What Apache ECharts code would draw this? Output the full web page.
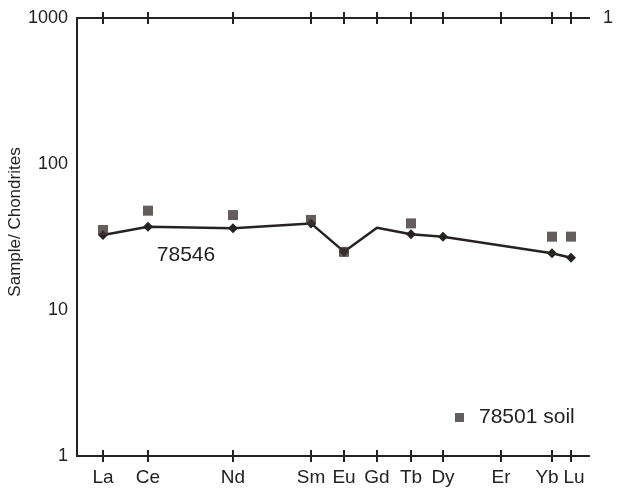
<!DOCTYPE html>
<html><head><meta charset="utf-8">
<script src="https://cdn.jsdelivr.net/npm/echarts@6/dist/echarts.min.js"></script>
<style>html,body{margin:0;padding:0;background:#fff}#c{width:620px;height:491px}</style>
</head><body><div id="c"></div>
<script>
// Rare earth elements and their positions along the (non-uniform) x scale
const elements = ['La','Ce','Nd','Sm','Eu','Gd','Tb','Dy','Er','Yb','Lu'];
const elementPos = [26,71,156,234,267,300,334,366,424,475,494];
// Sample / chondrite ratios
const sample78546 = [32.6,37.2,36.3,39.2,25.1,36.6,33.0,31.8,null,24.5,22.8];
const soil78501  = [35.3,47.9,44.7,41.4,25.0,null,39.2,null,null,31.8,31.8];
const yTickValues = [1,10,100,1000];

const INK = '#262222';
const FONT = '"Liberation Sans", Arial, sans-serif';

// split labels over two overlapping bottom axes so tight neighbours are not auto-hidden
const evenPos = elementPos.filter((p, i) => i % 2 === 0);
const oddPos = elementPos.filter((p, i) => i % 2 === 1);

function xa(pos, inside, labelValues) {
  return {
    type: 'value', min: 0, max: 512, position: pos,
    axisLine: { show: true, onZero: false, lineStyle: { color: INK, width: 2 } },
    axisTick: { show: true, inside: inside, length: 6, customValues: elementPos,
                lineStyle: { color: INK, width: 2 } },
    axisLabel: { show: !!labelValues, customValues: labelValues || elementPos, margin: 12,
                 hideOverlap: false, showMinLabel: true, showMaxLabel: true,
                 fontSize: 19, fontFamily: FONT, color: '#222',
                 rich: {
                   l: { fontSize: 19, fontFamily: FONT, color: '#222', padding: [0, 10, 0, 0] },
                   r: { fontSize: 19, fontFamily: FONT, color: '#222', padding: [0, 0, 0, 6] }
                 },
                 formatter: v => {
                   const i = elementPos.indexOf(v);
                   if (i < 0) return '';
                   const n = elements[i];
                   if (n === 'Yb') return '{l|' + n + '}';
                   if (n === 'Lu') return '{r|' + n + '}';
                   return n;
                 } },
    splitLine: { show: false }
  };
}

const lineData = elements.map((e, i) => sample78546[i] == null ? null :
  { value: [elementPos[i], sample78546[i]], symbol: e === 'Gd' ? 'none' : 'diamond' }).filter(Boolean);
const soilData = elements.map((e, i) => soil78501[i] == null ? null :
  [elementPos[i], soil78501[i]]).filter(Boolean);

const chart = echarts.init(document.getElementById('c'));
chart.setOption({
  animation: false,
  backgroundColor: '#fff',
  grid: { left: 77, right: 31, top: 18, bottom: 35, containLabel: false },
  xAxis: [xa('bottom', false, evenPos), xa('bottom', true, oddPos), xa('top', false, null), xa('top', true, null)],
  yAxis: [
    { type: 'log', logBase: 10, min: 1, max: 1000, position: 'left',
      axisLine: { show: true, lineStyle: { color: INK, width: 2 } },
      axisTick: { show: false }, minorTick: { show: false }, splitLine: { show: false },
      axisLabel: { fontSize: 18, fontFamily: FONT, color: '#222', margin: 9,
                   formatter: v => yTickValues.includes(Math.round(v)) ? String(Math.round(v)) : '' } },
    { type: 'log', logBase: 10, min: 1, max: 1000, position: 'right',
      axisLine: { show: true, lineStyle: { color: INK, width: 2 } },
      axisTick: { show: false }, minorTick: { show: false }, splitLine: { show: false },
      axisLabel: { fontSize: 18, fontFamily: FONT, color: '#222', margin: 14,
                   formatter: v => Math.round(v) === 1000 ? '1' : '' } }
  ],
  legend: {
    data: [{ name: '78501 soil', icon: 'rect' }],
    left: 450, top: 402, itemWidth: 9, itemHeight: 9,
    textStyle: { fontSize: 21, fontFamily: FONT, color: '#222', padding: [0, 0, 0, 10] },
    itemStyle: { color: '#3d3434' }
  },
  graphic: [
    { type: 'text', x: 186, y: 255,
      style: { text: '78546', fill: '#222', font: '21px "Liberation Sans", Arial, sans-serif',
               align: 'center', verticalAlign: 'middle' } },
    { type: 'text', x: 15, y: 222, rotation: Math.PI / 2,
      style: { text: 'Sample/ Chondrites', fill: '#222', font: '17px "Liberation Sans", Arial, sans-serif',
               align: 'center', verticalAlign: 'middle' } }
  ],
  series: [
    { name: '78546', type: 'line', xAxisIndex: 0, yAxisIndex: 0, data: lineData,
      symbol: 'diamond', symbolSize: 10, silent: true, z: 2,
      lineStyle: { color: INK, width: 2.5 }, itemStyle: { color: INK } },
    { name: '78501 soil', type: 'scatter', xAxisIndex: 0, yAxisIndex: 0, data: soilData,
      symbol: 'rect', symbolSize: 10, silent: true, z: 3,
      itemStyle: { color: '#3d3434' } }
  ]
});
</script></body></html>
